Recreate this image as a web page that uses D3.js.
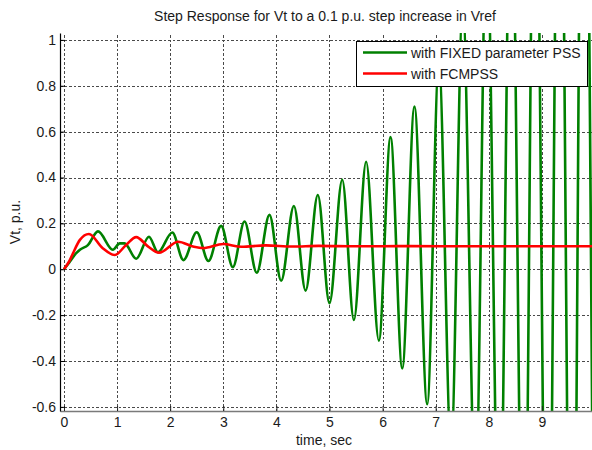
<!DOCTYPE html>
<html>
<head>
<meta charset="utf-8">
<script src="https://cdn.jsdelivr.net/npm/d3@7"></script>
<style>
  html, body { margin: 0; padding: 0; background: #fff; }
  svg { display: block; font-family: "Liberation Sans", Arial, sans-serif; }
</style>
</head>
<body>
<svg id="chart" width="592" height="450"></svg>
<script>
// Step response samples (time in s, Vt in p.u.)
const fixedTime = [0, 0.1, 0.23, 0.3, 0.45, 0.64, 0.92, 1.05, 1.14, 1.36, 1.6, 1.77, 2.04, 2.25, 2.5, 2.72, 2.96, 3.18, 3.4, 3.63, 3.87, 4.09, 4.33, 4.55, 4.78, 5.0, 5.24, 5.46, 5.69, 5.93, 6.15, 6.37, 6.6, 6.84, 7.06, 7.29, 7.51, 7.75, 7.96, 8.2, 8.42, 8.66, 8.87, 9.11, 9.33, 9.57, 9.78, 10.0];
const fixedVt   = [0, 0.03, 0.07, 0.085, 0.105, 0.165, 0.085, 0.113, 0.113, 0.046, 0.142, 0.074, 0.16, 0.04, 0.161, 0.036, 0.189, 0.009, 0.208, -0.015, 0.237, -0.05, 0.276, -0.093, 0.324, -0.148, 0.39, -0.221, 0.469, -0.311, 0.576, -0.432, 0.709, -0.588, 0.9, -0.78, 1.15, -1.0, 1.5, -1.35, 1.85, -1.7, 2.2, -2.0, 2.5, -2.3, 2.75, -2.5];

const fcmTime = [0, 0.1, 0.17, 0.3, 0.47, 0.73, 0.955, 1.17, 1.36, 1.58, 1.79, 2.15, 2.43, 2.62, 3.0, 3.34, 3.8, 4.3, 4.8, 5.5, 6.5, 7.5, 10.0];
const fcmVt   = [0, 0.035, 0.07, 0.128, 0.154, 0.092, 0.062, 0.106, 0.14, 0.1, 0.072, 0.12, 0.099, 0.092, 0.11, 0.098, 0.104, 0.099, 0.102, 0.1, 0.101, 0.1, 0.1];

const xTicks = [0, 1, 2, 3, 4, 5, 6, 7, 8, 9];
const yTicks = [-0.6, -0.4, -0.2, 0, 0.2, 0.4, 0.6, 0.8, 1];

const seriesNames = ["with FIXED parameter PSS", "with FCMPSS"];
const seriesColors = ["#008000", "#ff0000"];

const svg = d3.select("#chart");
const plotLeft = 60, plotRight = 595, plotTop = 33, plotBottom = 411;

const x = d3.scaleLinear().domain([-0.075, 10]).range([plotLeft, plotRight]);
const y = d3.scaleLinear().domain([-0.618, 1.03]).range([plotBottom, plotTop]);

// clip region for the plotting area
svg.append("defs").append("clipPath").attr("id", "plotClip")
  .append("rect").attr("x", plotLeft).attr("y", plotTop)
  .attr("width", plotRight - plotLeft).attr("height", plotBottom - plotTop);

// dotted grid
const grid = svg.append("g").attr("class", "grid");
grid.append("g")
  .attr("transform", `translate(0,${plotBottom})`)
  .call(d3.axisBottom(x).tickValues(xTicks).tickSize(-(plotBottom - plotTop)).tickFormat(""))
  .call(g => g.select(".domain").remove());
grid.append("g")
  .attr("transform", `translate(${plotLeft},0)`)
  .call(d3.axisLeft(y).tickValues(yTicks).tickSize(-(plotRight - plotLeft)).tickFormat(""))
  .call(g => g.select(".domain").remove());
grid.selectAll("line")
  .attr("stroke", "#4a4a4a")
  .attr("stroke-width", 1)
  .attr("stroke-dasharray", "2.5,2")
  .attr("shape-rendering", "crispEdges");

// data lines
const plot = svg.append("g").attr("clip-path", "url(#plotClip)");
const line = d3.line().x(d => x(d[0])).y(d => y(d[1])).curve(d3.curveMonotoneX);

const fixedData = fixedTime.map((t, i) => [t, fixedVt[i]]);
const fcmData = fcmTime.map((t, i) => [t, fcmVt[i]]);

plot.append("path").datum(fixedData)
  .attr("d", line).attr("fill", "none")
  .attr("stroke", seriesColors[0]).attr("stroke-width", 2.6)
  .attr("stroke-linejoin", "round");
plot.append("path").datum(fcmData)
  .attr("d", line).attr("fill", "none")
  .attr("stroke", seriesColors[1]).attr("stroke-width", 2.6)
  .attr("stroke-linejoin", "round");

// axes
const xAxis = svg.append("g")
  .attr("transform", `translate(0,${plotBottom})`)
  .call(d3.axisBottom(x).tickValues(xTicks).tickSizeInner(-5).tickSizeOuter(0).tickPadding(6).tickFormat(d3.format("d")));
xAxis.select(".domain").attr("stroke", "#7a7a7a").attr("stroke-width", 1.6);
xAxis.selectAll(".tick line").attr("stroke", "#222");

const yAxis = svg.append("g")
  .attr("transform", `translate(${plotLeft},0)`)
  .call(d3.axisLeft(y).tickValues(yTicks).tickSizeInner(-5).tickSizeOuter(0).tickPadding(4).tickFormat(d => String(+d.toFixed(1))));
yAxis.select(".domain").attr("stroke", "#000").attr("stroke-width", 1.2);
yAxis.selectAll(".tick line").attr("stroke", "#000");

svg.selectAll(".tick text")
  .attr("font-family", "'Liberation Sans', Arial, sans-serif")
  .attr("font-size", 14)
  .attr("fill", "#1a1a1a");

// title and axis labels
svg.append("text")
  .attr("x", 325).attr("y", 21)
  .attr("text-anchor", "middle").attr("font-size", 14).attr("fill", "#1a1a1a")
  .text("Step Response for Vt to a 0.1 p.u. step increase in Vref");
svg.append("text")
  .attr("x", 324).attr("y", 445)
  .attr("text-anchor", "middle").attr("font-size", 14).attr("fill", "#1a1a1a")
  .text("time, sec");
svg.append("text")
  .attr("transform", `translate(20,${(plotTop + plotBottom) / 2}) rotate(-90)`)
  .attr("text-anchor", "middle").attr("font-size", 14).attr("fill", "#1a1a1a")
  .text("Vt, p.u.");

// legend
const legend = svg.append("g");
legend.append("rect")
  .attr("x", 356).attr("y", 41).attr("width", 231).attr("height", 45)
  .attr("fill", "#fff").attr("stroke", "#000").attr("stroke-width", 1)
  .attr("shape-rendering", "crispEdges");
seriesNames.forEach((name, i) => {
  const cy = 52.5 + i * 21;
  legend.append("line")
    .attr("x1", 363).attr("x2", 407).attr("y1", cy).attr("y2", cy)
    .attr("stroke", seriesColors[i]).attr("stroke-width", 2.6);
  legend.append("text")
    .attr("x", 411).attr("y", cy + 5)
    .attr("font-size", 14).attr("fill", "#1a1a1a")
    .text(name);
});
</script>
</body>
</html>
